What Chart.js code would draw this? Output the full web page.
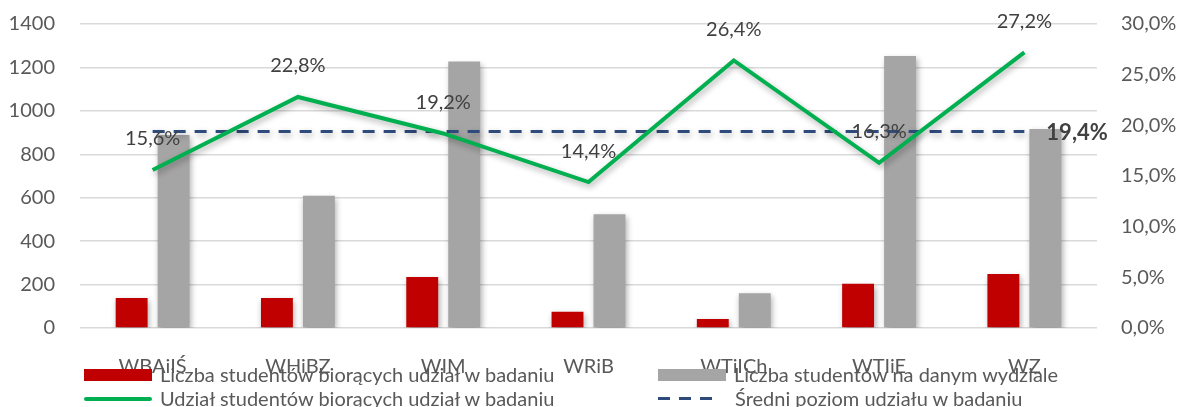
<!DOCTYPE html>
<html><head><meta charset="utf-8">
<script src="https://cdn.jsdelivr.net/npm/chart.js@4.4.1/dist/chart.umd.min.js"></script>
<style>
html,body{margin:0;padding:0;background:#fff;}
#wrap{position:relative;width:1184px;height:407px;}
#legend{position:absolute;left:84px;top:363px;display:grid;grid-template-columns:574px auto;row-gap:1px;font-family:Lato,sans-serif;font-size:20px;color:#595959;line-height:23px;}
.it{display:flex;align-items:center;white-space:nowrap;}
.sw{width:68px;height:12px;margin-right:8px;flex:none;}
.ln{width:68px;height:0;border-top:4px solid #00B050;border-radius:2px;margin-right:8px;flex:none;}
.dl{width:60px;height:3px;background:repeating-linear-gradient(90deg,#2F4B7C 0 12px,transparent 12px 21px);margin-right:17px;flex:none;}
</style></head>
<body><div id="wrap"><canvas id="c" width="1184" height="407"></canvas>
<div id="legend">
<div class="it"><span class="sw" style="background:#C00000"></span>Liczba studentów biorących udział w badaniu</div>
<div class="it"><span class="sw" style="background:#A5A5A5"></span>Liczba studentów na danym wydziale</div>
<div class="it"><span class="ln"></span>Udział studentów biorących udział w badaniu</div>
<div class="it"><span class="dl"></span>Średni poziom udziału w badaniu</div>
</div></div>
<script>
const categories = ['WBAiIŚ','WHiBZ','WIM','WRiB','WTiICh','WTIiE','WZ'];
const participants = [138, 138, 235, 75, 42, 204, 249];
const totalStudents = [889, 609, 1227, 524, 160, 1253, 916];
const shareRate = [15.6, 22.8, 19.2, 14.4, 26.4, 16.3, 27.2];
const averageRate = [19.4, 19.4, 19.4, 19.4, 19.4, 19.4, 19.4];
const leftTicks = [0, 200, 400, 600, 800, 1000, 1200, 1400];
const rightTicks = [0, 5, 10, 15, 20, 25, 30];

const fmt = v => v.toFixed(1).replace('.', ',') + '%';

const shadowPlugin = {
  id: 'shadow',
  beforeDatasetDraw(chart) {
    const c = chart.ctx; c.save();
    c.shadowColor = 'rgba(0,0,0,0.32)'; c.shadowBlur = 6; c.shadowOffsetX = 1.5; c.shadowOffsetY = 3;
  },
  afterDatasetDraw(chart) { chart.ctx.restore(); }
};

const labelPlugin = {
  id: 'labels',
  afterDatasetsDraw(chart) {
    const c = chart.ctx;
    c.save();
    c.fillStyle = '#404040';
    c.textAlign = 'center'; c.textBaseline = 'middle';
    c.font = '20px Lato';
    chart.getDatasetMeta(0).data.forEach((p, i) => {
      c.fillText(fmt(shareRate[i]), p.x, p.y - 31);
    });
    const am = chart.getDatasetMeta(1).data;
    const last = am[am.length - 1];
    c.textAlign = 'left';
    c.font = 'bold 22px Lato';
    c.fillText(fmt(averageRate[averageRate.length - 1]), last.x + 22, last.y + 1);
    c.restore();
  }
};

new Chart(document.getElementById('c'), {
  data: {
    labels: categories,
    datasets: [
      { type: 'line', label: 'Udział studentów biorących udział w badaniu', data: shareRate, yAxisID: 'y1',
        borderColor: '#00B050', borderWidth: 4, pointRadius: 0, tension: 0, order: 0 },
      { type: 'line', label: 'Średni poziom udziału w badaniu', data: averageRate, yAxisID: 'y1',
        borderColor: '#2F4B7C', borderWidth: 3, borderDash: [12, 9], pointRadius: 0, order: 0 },
      { type: 'bar', label: 'Liczba studentów biorących udział w badaniu', data: participants, yAxisID: 'y',
        backgroundColor: '#C00000', categoryPercentage: 0.578, barPercentage: 0.76, order: 1 },
      { type: 'bar', label: 'Liczba studentów na danym wydziale', data: totalStudents, yAxisID: 'y',
        backgroundColor: '#A5A5A5', categoryPercentage: 0.578, barPercentage: 0.76, order: 1 }
    ]
  },
  options: {
    responsive: false,
    animation: false,
    layout: { padding: { top: 24, left: 0, right: 0, bottom: 0 } },
    plugins: { legend: { display: false }, tooltip: { enabled: false } },
    scales: {
      x: {
        grid: { display: false }, border: { display: false },
        ticks: { font: { family: 'Lato', size: 20 }, color: '#595959', padding: 19 },
        afterFit(s) { s.height = 79; }
      },
      y: {
        position: 'left', min: 0, max: 1400,
        afterBuildTicks(s) { s.ticks = leftTicks.map(v => ({ value: v })); },
        grid: { color: '#D9D9D9', lineWidth: 1.5, drawTicks: false }, border: { display: false },
        ticks: { font: { family: 'Lato', size: 20 }, color: '#595959', padding: 25, callback: v => String(v) },
        afterFit(s) { s.width = 80; s.paddingTop = 0; s.paddingBottom = 0; }
      },
      y1: {
        position: 'right', min: 0, max: 30,
        afterBuildTicks(s) { s.ticks = rightTicks.map(v => ({ value: v })); },
        grid: { display: false, drawTicks: false }, border: { display: false },
        ticks: { font: { family: 'Lato', size: 20 }, color: '#595959', padding: 24, callback: v => fmt(v) },
        afterFit(s) { s.width = 87; s.paddingTop = 0; s.paddingBottom = 0; }
      }
    }
  },
  plugins: [shadowPlugin, labelPlugin]
});
</script></body></html>
